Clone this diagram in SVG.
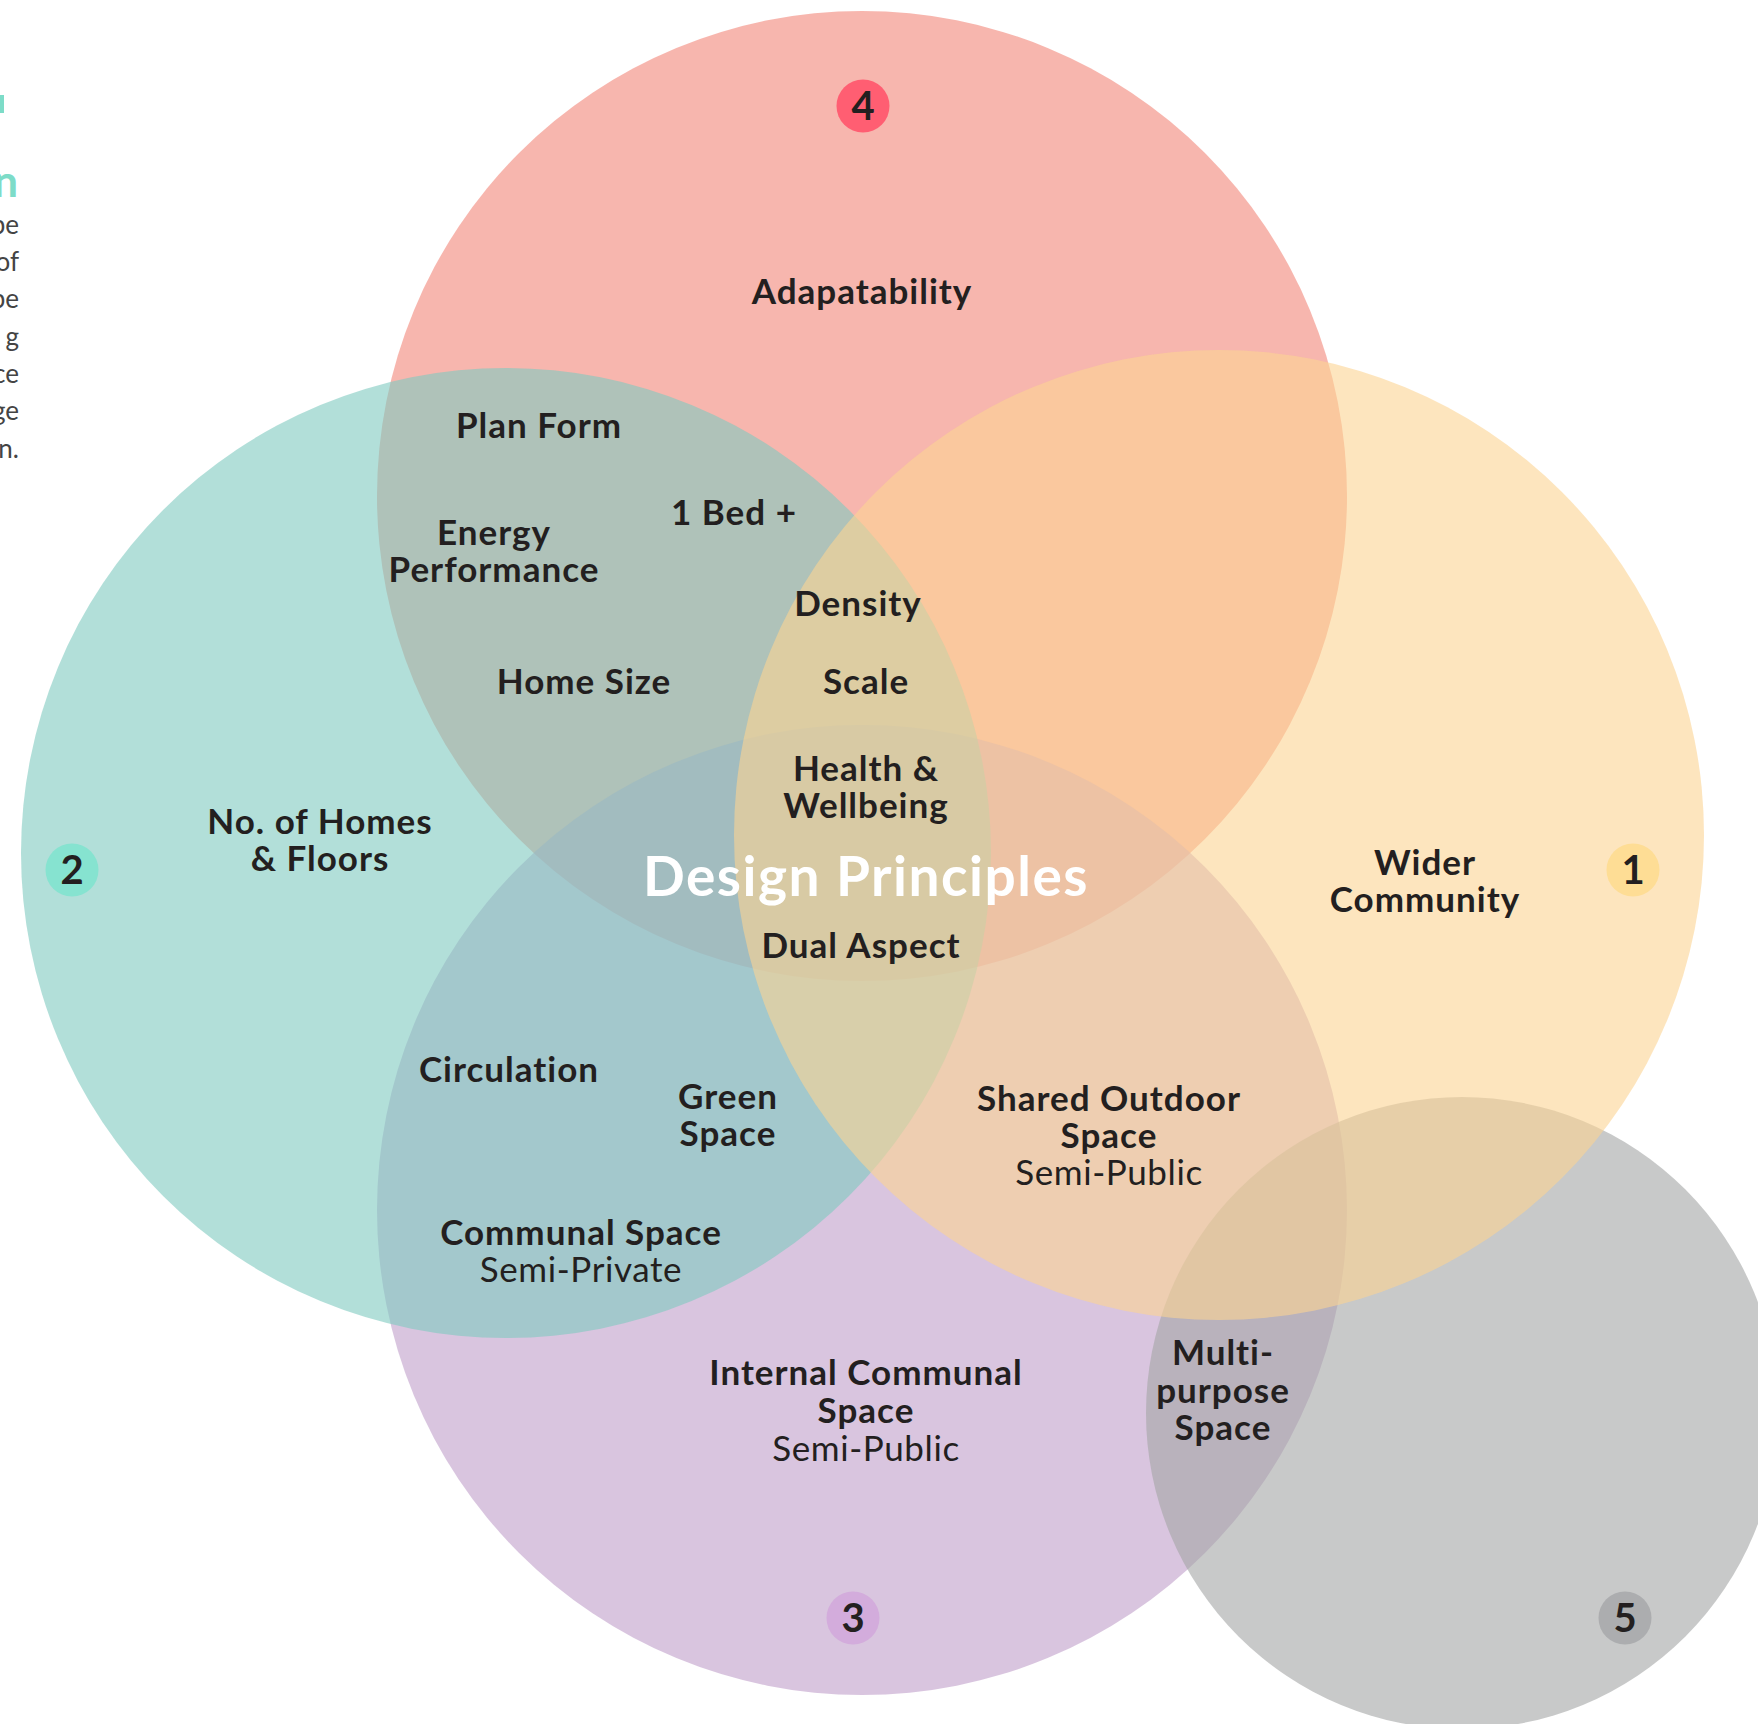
<svg xmlns="http://www.w3.org/2000/svg" width="1758" height="1724" viewBox="0 0 1758 1724">
<style>
.c{fill-opacity:0.6}
.lbl{font-family:Lato,"Liberation Sans",sans-serif;font-weight:700;font-size:35px;letter-spacing:1px;fill:#231f20;text-anchor:middle}
.sub{font-family:Lato,"Liberation Sans",sans-serif;font-weight:400;font-size:35px;letter-spacing:0.6px;fill:#231f20;text-anchor:middle}
.num{font-family:Lato,"Liberation Sans",sans-serif;font-weight:700;font-size:40px;fill:#231f20;text-anchor:middle}
.title{font-family:Lato,"Liberation Sans",sans-serif;font-weight:700;font-size:55px;letter-spacing:1.5px;fill:#ffffff;text-anchor:middle}
.side{font-family:Lato,"Liberation Sans",sans-serif;font-weight:400;font-size:26px;fill:#444444;text-anchor:end}
</style>
<rect width="1758" height="1724" fill="#ffffff"/>
<g id="side-text">
<rect x="0" y="95" width="4" height="18" fill="#7ddcc8"/>
<text x="18" y="197" style="font-family:Lato,'Liberation Sans',sans-serif;font-weight:700;font-size:44px;fill:#7ddcc8;text-anchor:end">n</text>
<text class="side" x="19" y="234">pe</text>
<text class="side" x="19" y="271">of</text>
<text class="side" x="19" y="308">pe</text>
<text class="side" x="19" y="346">g</text>
<text class="side" x="19" y="383">ce</text>
<text class="side" x="19" y="420">ge</text>
<text class="side" x="19" y="458">n.</text>
</g>
<g id="circles">
<circle id="circle-4" class="c" cx="862" cy="496" r="485" fill="#f28578"/>
<circle id="circle-3" class="c" cx="862" cy="1210" r="485" fill="#c09eca"/>
<circle id="circle-5" class="c" cx="1462" cy="1413" r="316" fill="#a3a5a5"/>
<circle id="circle-2" class="c" cx="506" cy="853" r="485" fill="#7fcac0"/>
<circle id="circle-1" class="c" cx="1219" cy="835" r="485" fill="#fcd493"/>
</g>
<g id="badges">
<g id="badge-4"><circle cx="863" cy="106" r="26.5" fill="#ff5e72"/><text class="num" x="863" y="120">4</text></g>
<g id="badge-2"><circle cx="72" cy="870" r="26.5" fill="#86e3d0"/><text class="num" x="72" y="884">2</text></g>
<g id="badge-1"><circle cx="1633" cy="870" r="26.5" fill="#fedd95"/><text class="num" x="1633" y="884">1</text></g>
<g id="badge-3"><circle cx="853" cy="1618" r="26.5" fill="#d3acdc"/><text class="num" x="853" y="1632">3</text></g>
<g id="badge-5"><circle cx="1625" cy="1618" r="26.5" fill="#acadaf"/><text class="num" x="1625" y="1632">5</text></g>
</g>
<g id="labels">
<text class="lbl" x="862" y="304">Adapatability</text>
<text class="lbl" x="539" y="438">Plan Form</text>
<text class="lbl" x="734" y="525">1 Bed +</text>
<text class="lbl" x="494" y="545">Energy</text>
<text class="lbl" x="494" y="582">Performance</text>
<text class="lbl" x="858" y="616">Density</text>
<text class="lbl" x="584" y="694">Home Size</text>
<text class="lbl" x="866" y="694">Scale</text>
<text class="lbl" x="866" y="781">Health &amp;</text>
<text class="lbl" x="866" y="818">Wellbeing</text>
<text class="lbl" x="320" y="834">No. of Homes</text>
<text class="lbl" x="320" y="871">&amp; Floors</text>
<text class="title" x="866" y="896">Design Principles</text>
<text class="lbl" x="861" y="958">Dual Aspect</text>
<text class="lbl" x="1425" y="875">Wider</text>
<text class="lbl" x="1425" y="912">Community</text>
<text class="lbl" x="509" y="1082">Circulation</text>
<text class="lbl" x="728" y="1109">Green</text>
<text class="lbl" x="728" y="1146">Space</text>
<text class="lbl" x="1109" y="1111">Shared Outdoor</text>
<text class="lbl" x="1109" y="1148">Space</text>
<text class="sub" x="1109" y="1185">Semi-Public</text>
<text class="lbl" x="581" y="1245">Communal Space</text>
<text class="sub" x="581" y="1282">Semi-Private</text>
<text class="lbl" x="866" y="1385">Internal Communal</text>
<text class="lbl" x="866" y="1423">Space</text>
<text class="sub" x="866" y="1461">Semi-Public</text>
<text class="lbl" x="1223" y="1365">Multi-</text>
<text class="lbl" x="1223" y="1403">purpose</text>
<text class="lbl" x="1223" y="1440">Space</text>
</g>
</svg>
